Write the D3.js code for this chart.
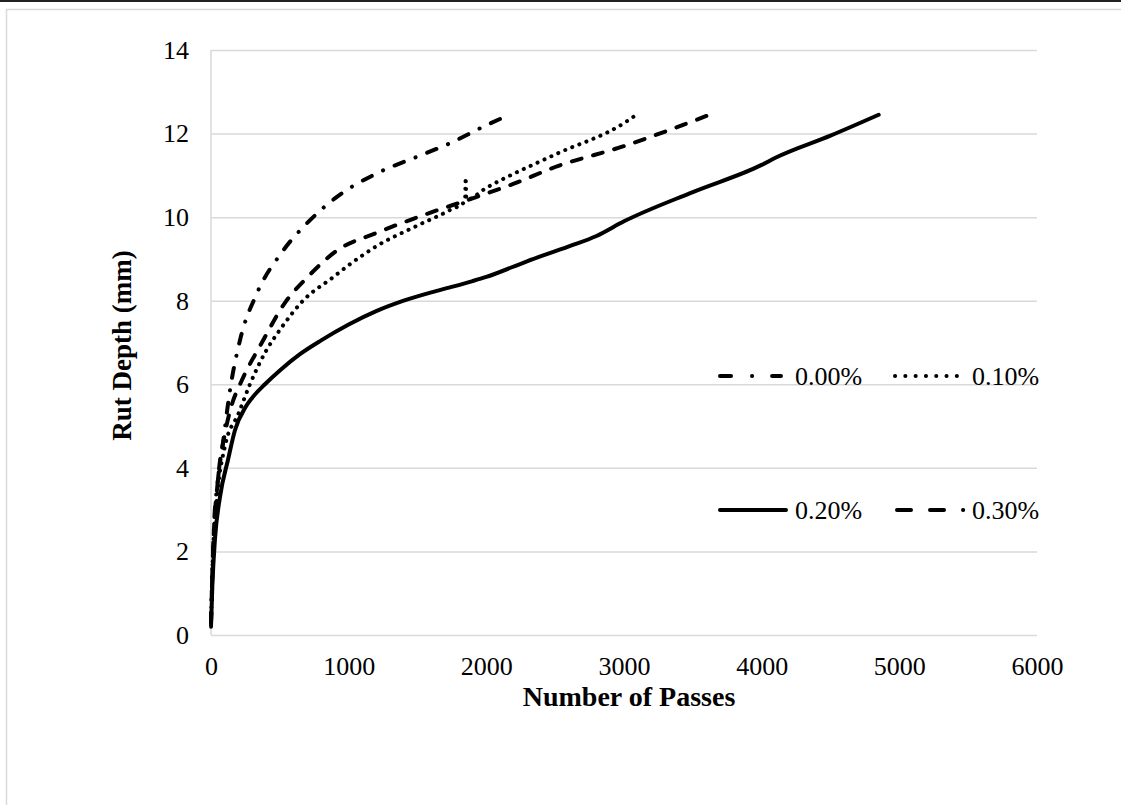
<!DOCTYPE html>
<html>
<head>
<meta charset="utf-8">
<script src="https://cdn.jsdelivr.net/npm/d3@7"></script>
<style>
    body { margin: 0; background: #fff; }
    svg { display: block; font-family: "Liberation Serif", "Times New Roman", serif; }
</style>
</head>
<body>
<svg id="chart"></svg>
<script>
// series data (passes, rut depth mm)
const passes00 = [0, 20, 50, 87, 138, 211, 334, 515, 705, 900, 1206, 1500, 1736, 2000, 2100];
const rut00    = [0.3, 2.5, 3.7, 4.6, 5.86, 7.06, 8.18, 9.16, 9.88, 10.45, 11.05, 11.45, 11.77, 12.2, 12.35];

const passes10 = [0, 15, 50, 100, 200, 283, 400, 500, 668, 886, 1000, 1200, 1500, 1736, 1845, 1850, 1855, 2000, 2500, 3000, 3090];
const rut10    = [0.3, 2.0, 3.5, 4.5, 5.3, 6.0, 6.8, 7.3, 8.0, 8.56, 8.85, 9.3, 9.8, 10.17, 10.38, 10.95, 10.42, 10.7, 11.5, 12.25, 12.45];

const passes20 = [0, 10, 29, 65, 124, 174, 250, 300, 392, 500, 646, 800, 1000, 1200, 1400, 1600, 1736, 1900, 2000, 2300, 2600, 2800, 3000, 3500, 4000, 4100, 4500, 4850];
const rut20    = [0.2, 1.2, 2.3, 3.3, 4.2, 4.9, 5.45, 5.68, 6.0, 6.33, 6.72, 7.05, 7.43, 7.75, 8.0, 8.2, 8.32, 8.47, 8.57, 8.95, 9.3, 9.55, 9.9, 10.6, 11.25, 11.42, 11.95, 12.45];

const passes30 = [0, 15, 50, 100, 150, 211, 370, 537, 697, 915, 1200, 1570, 1900, 2200, 2500, 3000, 3300, 3660];
const rut30    = [0.3, 2.0, 3.7, 4.8, 5.5, 6.0, 7.0, 7.95, 8.55, 9.2, 9.62, 10.08, 10.45, 10.8, 11.2, 11.7, 12.05, 12.5];

const seriesNames = ['0.00%', '0.10%', '0.20%', '0.30%'];
const xTicks = [0, 1000, 2000, 3000, 4000, 5000, 6000];
const yTicks = [0, 2, 4, 6, 8, 10, 12, 14];

const series = [
    { name: seriesNames[0], x: passes00, y: rut00, dash: '10,12.5,0.1,12.5', legendDash: '11,21,0.1,20', legendLen: 61 },
    { name: seriesNames[1], x: passes10, y: rut10, dash: '0.1,7.5', legendDash: '0.1,10.2', legendLen: 62 },
    { name: seriesNames[2], x: passes20, y: rut20, dash: null, legendDash: null, legendLen: 66 },
    { name: seriesNames[3], x: passes30, y: rut30, dash: '10,12', legendDash: '14,19', legendLen: 66.2 }
];

const width = 1121, height = 805;
const margin = { top: 50, right: 84, bottom: 170, left: 211 };
const innerW = width - margin.left - margin.right;
const innerH = height - margin.top - margin.bottom;
const fontSize = 26;

const svg = d3.select('#chart')
    .attr('width', width)
    .attr('height', height);

// frame: dark rule on top, light border
svg.append('line')
    .attr('x1', 0).attr('x2', width)
    .attr('y1', 1).attr('y2', 1)
    .attr('stroke', '#222').attr('stroke-width', 2);
svg.append('rect')
    .attr('x', 6.5).attr('y', 9.5)
    .attr('width', width + 20).attr('height', height + 20)
    .attr('fill', 'none')
    .attr('stroke', '#d9d9d9').attr('stroke-width', 1.5);

const g = svg.append('g')
    .attr('transform', `translate(${margin.left},${margin.top})`);

const xScale = d3.scaleLinear().domain([0, 6000]).range([0, innerW]);
const yScale = d3.scaleLinear().domain([0, 14]).range([innerH, 0]);

// gridlines
const yAxis = d3.axisLeft(yScale)
    .tickValues(yTicks)
    .tickSize(-innerW)
    .tickPadding(22)
    .tickFormat(d3.format('d'));
const yAxisG = g.append('g').call(yAxis);
yAxisG.select('.domain').remove();
yAxisG.selectAll('line').attr('stroke', '#d9d9d9').attr('stroke-width', 1.5);
yAxisG.selectAll('text')
    .attr('font-size', fontSize)
    .attr('fill', '#000')
    .attr('font-family', '"Liberation Serif", serif');

// y axis line
g.append('line')
    .attr('x1', 0).attr('x2', 0)
    .attr('y1', 0).attr('y2', innerH)
    .attr('stroke', '#d9d9d9').attr('stroke-width', 1.5);

const xAxis = d3.axisBottom(xScale)
    .tickValues(xTicks)
    .tickSize(0)
    .tickPadding(22)
    .tickFormat(d3.format('d'));
const xAxisG = g.append('g')
    .attr('transform', `translate(0,${innerH})`)
    .call(xAxis);
xAxisG.select('.domain').remove();
xAxisG.selectAll('text')
    .attr('font-size', fontSize)
    .attr('fill', '#000')
    .attr('font-family', '"Liberation Serif", serif');

// series lines
const line = d3.line()
    .x(d => xScale(d[0]))
    .y(d => yScale(d[1]))
    .curve(d3.curveMonotoneX);

g.selectAll('path.series')
    .data(series)
    .join('path')
    .attr('class', 'series')
    .attr('d', s => line(s.x.map((v, i) => [v, s.y[i]])))
    .attr('fill', 'none')
    .attr('stroke', '#000')
    .attr('stroke-width', 4)
    .attr('stroke-linecap', 'round')
    .attr('stroke-linejoin', 'round')
    .attr('stroke-dasharray', s => s.dash);

// axis titles
svg.append('text')
    .attr('x', 629)
    .attr('y', 706)
    .attr('text-anchor', 'middle')
    .attr('font-size', 28)
    .attr('font-weight', 'bold')
    .text('Number of Passes');

svg.append('text')
    .attr('transform', `translate(131,${margin.top + innerH / 2 + 3}) rotate(-90)`)
    .attr('text-anchor', 'middle')
    .attr('font-size', 27)
    .attr('font-weight', 'bold')
    .text('Rut Depth (mm)');

// legend, two by two
const legendPos = [
    { x: 720, y: 376 }, { x: 895, y: 376 },
    { x: 720, y: 510 }, { x: 897, y: 510 }
];
const legendText = [795, 972, 795, 972];
const legend = svg.selectAll('g.legend')
    .data(series)
    .join('g')
    .attr('class', 'legend')
    .attr('transform', (d, i) => `translate(${legendPos[i].x},${legendPos[i].y})`);

legend.append('line')
    .attr('x1', 0).attr('x2', d => d.legendLen)
    .attr('y1', 0).attr('y2', 0)
    .attr('stroke', '#000')
    .attr('stroke-width', 4)
    .attr('stroke-linecap', 'round')
    .attr('stroke-dasharray', d => d.legendDash);

legend.append('text')
    .attr('x', (d, i) => legendText[i] - legendPos[i].x)
    .attr('y', 9)
    .attr('font-size', fontSize)
    .text(d => d.name);
</script>
</body>
</html>
